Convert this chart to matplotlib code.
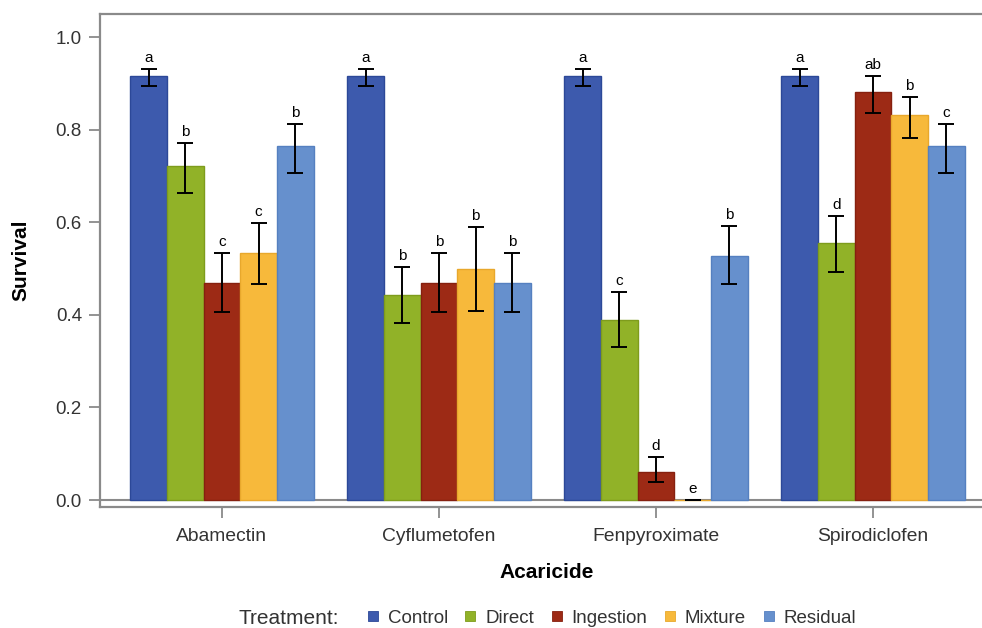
import matplotlib
matplotlib.use("Agg")
import matplotlib.pyplot as plt
from matplotlib.lines import Line2D
import numpy as np

plt.rcParams["font.family"] = ["Liberation Sans", "DejaVu Sans"]

# ── Data ────────────────────────────────────────────────────────────────
acaricides = ["Abamectin", "Cyflumetofen", "Fenpyroximate", "Spirodiclofen"]
treatments = ["Control", "Direct", "Ingestion", "Mixture", "Residual"]

control_mean = [0.916, 0.916, 0.916, 0.916]
control_lo = [0.894, 0.894, 0.894, 0.894]
control_hi = [0.931, 0.931, 0.931, 0.931]
control_letters = ["a", "a", "a", "a"]

direct_mean = [0.721, 0.443, 0.389, 0.555]
direct_lo = [0.663, 0.383, 0.330, 0.492]
direct_hi = [0.771, 0.504, 0.449, 0.614]
direct_letters = ["b", "b", "c", "d"]

ingestion_mean = [0.469, 0.469, 0.060, 0.881]
ingestion_lo = [0.406, 0.407, 0.039, 0.836]
ingestion_hi = [0.533, 0.533, 0.093, 0.916]
ingestion_letters = ["c", "b", "d", "ab"]

mixture_mean = [0.533, 0.499, 0.0, 0.832]
mixture_lo = [0.466, 0.408, 0.0, 0.782]
mixture_hi = [0.598, 0.590, 0.0, 0.870]
mixture_letters = ["c", "b", "e", "b"]

residual_mean = [0.764, 0.469, 0.528, 0.764]
residual_lo = [0.706, 0.407, 0.466, 0.706]
residual_hi = [0.812, 0.533, 0.592, 0.812]
residual_letters = ["b", "b", "b", "c"]

series = [
    (control_mean, control_lo, control_hi, control_letters),
    (direct_mean, direct_lo, direct_hi, direct_letters),
    (ingestion_mean, ingestion_lo, ingestion_hi, ingestion_letters),
    (mixture_mean, mixture_lo, mixture_hi, mixture_letters),
    (residual_mean, residual_lo, residual_hi, residual_letters),
]

fill_colors = ["#3D5AAD", "#91B228", "#9D2A15", "#F7B93B", "#6690CD"]
edge_colors = ["#2C4898", "#7E9C1C", "#86200F", "#E8A82C", "#5580C0"]

SPINE = "#8A8A8A"
TEXT = "#333333"

# ── Figure ──────────────────────────────────────────────────────────────
fig = plt.figure(figsize=(9.82, 6.28), dpi=100)
ax = fig.add_axes([100 / 982, 121 / 628, 894 / 982, 493 / 628])

x = np.arange(len(acaricides))
width = 0.169

for i, (mean, lo, hi, letters) in enumerate(series):
    pos = x + (i - 2) * width
    mean = np.array(mean)
    yerr = np.vstack([mean - np.array(lo), np.array(hi) - mean])
    ax.bar(pos, mean, width, color=fill_colors[i], edgecolor=edge_colors[i],
           linewidth=1.0, zorder=2, label=treatments[i])
    ax.errorbar(pos, mean, yerr=yerr, fmt="none", ecolor="black",
                elinewidth=1.4, capsize=5.8, capthick=1.4, zorder=3)
    for p, top, lab in zip(pos, hi, letters):
        ax.annotate(lab, xy=(p, top), xytext=(0, 5), textcoords="offset points",
                    ha="center", va="baseline", fontsize=11, color="black")

ax.axhline(0, color=SPINE, linewidth=1.5, zorder=1)

ax.set_xlim(-0.562, 3.558)
ax.set_ylim(-0.015, 1.05)
ax.set_xticks(x)
ax.set_xticklabels(acaricides)
ax.set_yticks([0.0, 0.2, 0.4, 0.6, 0.8, 1.0])
ax.set_yticklabels(["0.0", "0.2", "0.4", "0.6", "0.8", "1.0"])

ax.tick_params(axis="both", colors=SPINE, width=1.3, length=8, labelsize=13.5,
               labelcolor=TEXT)
ax.tick_params(axis="x", pad=7, labelsize=13.9)
ax.tick_params(axis="y", pad=5)

for side in ["left", "bottom", "top"]:
    ax.spines[side].set_color(SPINE)
    ax.spines[side].set_linewidth(1.6)
ax.spines["right"].set_visible(False)

ax.set_ylabel("Survival", fontsize=15, fontweight="bold", color="black")
ax.yaxis.set_label_coords(-0.078, 0.5)
ax.set_xlabel("Acaricide", fontsize=15, fontweight="bold", color="black")
ax.xaxis.set_label_coords(0.5, -0.113)

# ── Legend ──────────────────────────────────────────────────────────────
handles = [
    Line2D([], [], linestyle="none", marker="s", markersize=7,
           markerfacecolor=fill_colors[i], markeredgecolor=edge_colors[i],
           markeredgewidth=0.6)
    for i in range(len(treatments))
]
fig.legend(handles, treatments, loc="center", bbox_to_anchor=(612 / 982, 1 - 618 / 628),
           ncol=5, frameon=False, fontsize=13.5, handlelength=0.5,
           handletextpad=0.55, columnspacing=0.95, borderaxespad=0,
           labelcolor=TEXT)
fig.text(289 / 982, 1 - 618 / 628, "Treatment:", ha="center", va="center",
         fontsize=15, color=TEXT)

fig.savefig("out.png", dpi=100)
